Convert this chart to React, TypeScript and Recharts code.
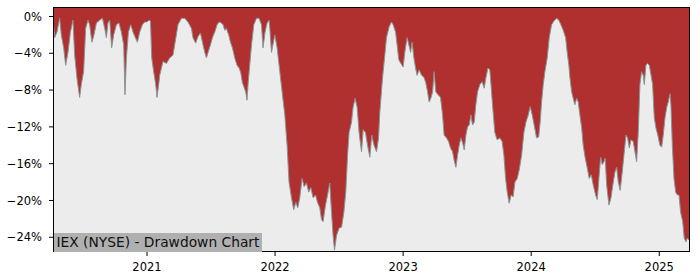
import React from "react"
import { Area, AreaChart, CartesianGrid, XAxis, YAxis } from "recharts"

// decimal years
const years = [
  2020.266, 2020.279, 2020.297, 2020.318, 2020.331, 2020.349, 2020.365, 2020.383, 2020.402, 2020.422,
  2020.435, 2020.453, 2020.474, 2020.487, 2020.505, 2020.521, 2020.539, 2020.552, 2020.57, 2020.586,
  2020.605, 2020.63, 2020.652, 2020.67, 2020.683, 2020.695, 2020.709, 2020.724, 2020.74, 2020.761,
  2020.781, 2020.8, 2020.818, 2020.828, 2020.839, 2020.855, 2020.873, 2020.891, 2020.909, 2020.925,
  2020.943, 2020.964, 2020.982, 2021.0, 2021.016, 2021.027, 2021.037, 2021.052, 2021.068, 2021.078,
  2021.094, 2021.099, 2021.125, 2021.152, 2021.177, 2021.203, 2021.216, 2021.242, 2021.269, 2021.295,
  2021.32, 2021.347, 2021.359, 2021.38, 2021.398, 2021.417, 2021.433, 2021.451, 2021.464, 2021.477,
  2021.495, 2021.511, 2021.529, 2021.547, 2021.563, 2021.581, 2021.594, 2021.607, 2021.62, 2021.638,
  2021.652, 2021.667, 2021.685, 2021.703, 2021.719, 2021.732, 2021.745, 2021.758, 2021.771, 2021.781,
  2021.789, 2021.802, 2021.816, 2021.834, 2021.855, 2021.875, 2021.894, 2021.906, 2021.922, 2021.938,
  2021.953, 2021.959, 2021.972, 2021.998, 2022.016, 2022.037, 2022.055, 2022.076, 2022.094, 2022.109,
  2022.128, 2022.146, 2022.162, 2022.177, 2022.193, 2022.211, 2022.227, 2022.245, 2022.263, 2022.279,
  2022.297, 2022.316, 2022.331, 2022.349, 2022.363, 2022.375, 2022.394, 2022.414, 2022.427, 2022.441,
  2022.453, 2022.464, 2022.48, 2022.5, 2022.519, 2022.537, 2022.552, 2022.566, 2022.578, 2022.597,
  2022.609, 2022.625, 2022.641, 2022.656, 2022.675, 2022.688, 2022.706, 2022.722, 2022.74, 2022.755,
  2022.773, 2022.792, 2022.808, 2022.818, 2022.839, 2022.857, 2022.87, 2022.891, 2022.909, 2022.922,
  2022.941, 2022.953, 2022.966, 2022.982, 2023.0, 2023.013, 2023.031, 2023.045, 2023.058, 2023.07,
  2023.084, 2023.097, 2023.109, 2023.125, 2023.144, 2023.162, 2023.177, 2023.191, 2023.203, 2023.216,
  2023.23, 2023.242, 2023.255, 2023.273, 2023.292, 2023.308, 2023.32, 2023.339, 2023.355, 2023.37,
  2023.386, 2023.398, 2023.412, 2023.425, 2023.438, 2023.451, 2023.464, 2023.477, 2023.49, 2023.503,
  2023.516, 2023.529, 2023.542, 2023.555, 2023.568, 2023.581, 2023.599, 2023.617, 2023.633, 2023.646,
  2023.662, 2023.677, 2023.698, 2023.716, 2023.734, 2023.755, 2023.773, 2023.787, 2023.8, 2023.813,
  2023.828, 2023.844, 2023.859, 2023.873, 2023.891, 2023.906, 2023.925, 2023.943, 2023.959, 2023.977,
  2023.992, 2024.008, 2024.023, 2024.042, 2024.058, 2024.07, 2024.081, 2024.094, 2024.107, 2024.125,
  2024.141, 2024.159, 2024.177, 2024.198, 2024.216, 2024.232, 2024.25, 2024.269, 2024.281, 2024.294,
  2024.302, 2024.316, 2024.328, 2024.341, 2024.355, 2024.367, 2024.38, 2024.394, 2024.406, 2024.422,
  2024.438, 2024.453, 2024.469, 2024.484, 2024.503, 2024.516, 2024.531, 2024.542, 2024.555, 2024.568,
  2024.578, 2024.589, 2024.607, 2024.623, 2024.641, 2024.654, 2024.667, 2024.68, 2024.695, 2024.711,
  2024.724, 2024.74, 2024.753, 2024.766, 2024.779, 2024.797, 2024.81, 2024.823, 2024.836, 2024.849,
  2024.862, 2024.875, 2024.883, 2024.896, 2024.909, 2024.922, 2024.936, 2024.948, 2024.961, 2024.974,
  2024.992, 2025.005, 2025.019, 2025.031, 2025.045, 2025.058, 2025.07, 2025.084, 2025.091, 2025.102,
  2025.115, 2025.128, 2025.141, 2025.154, 2025.167, 2025.183, 2025.195, 2025.209, 2025.219, 2025.232,
  2025.24,
]

// drawdown from running peak, in percent
const drawdown = [
  -0.2, -2.3, -1.7, -0.2, -2.0, -3.4, -5.3, -3.9, -1.7, -0.4,
  -4.2, -6.7, -8.8, -7.4, -6.0, -1.3, -0.4, -0.9, -2.8, -2.0,
  -0.7, -0.4, -0.2, -1.3, -2.3, -0.7, -0.4, -3.4, -2.0, -0.9,
  -0.7, -1.7, -3.1, -8.5, -4.5, -1.7, -0.9, -1.7, -2.3, -2.8,
  -1.7, -0.9, -0.6, -0.6, -0.4, -0.5, -4.5, -6.0, -7.4, -8.8,
  -7.1, -6.4, -4.9, -5.1, -4.5, -4.2, -3.1, -0.9, -0.2, -0.2,
  -0.6, -1.3, -2.3, -2.9, -2.2, -1.8, -2.8, -3.9, -4.5, -3.9,
  -3.1, -2.3, -1.7, -0.9, -0.6, -0.7, -0.9, -1.5, -1.3, -2.0,
  -2.8, -3.4, -4.5, -5.3, -5.6, -6.1, -7.2, -7.7, -8.2, -9.1,
  -7.4, -5.3, -3.1, -0.9, -0.2, -0.2, -0.9, -3.4, -1.7, -0.7,
  -0.4, -1.3, -3.9, -2.0, -3.4, -6.0, -8.2, -10.7, -14.0, -18.0,
  -19.7, -21.0, -20.2, -20.8, -19.7, -17.6, -18.5, -18.1, -19.1, -18.6,
  -19.7, -19.4, -20.2, -20.8, -22.1, -22.3, -20.5, -19.1, -18.1, -21.3,
  -23.8, -25.4, -23.8, -23.0, -22.9, -21.3, -19.1, -15.1, -12.6, -11.5,
  -9.9, -8.9, -9.9, -12.6, -14.7, -12.3, -12.6, -14.0, -15.3, -12.9,
  -14.0, -14.7, -13.2, -10.4, -6.7, -4.2, -2.3, -1.1, -0.6, -0.9,
  -1.7, -3.1, -4.7, -5.1, -5.5, -3.9, -2.3, -3.1, -3.9, -2.8,
  -4.5, -5.6, -6.4, -5.8, -6.4, -6.6, -7.2, -8.2, -9.3, -8.9,
  -8.2, -6.0, -8.2, -8.5, -8.8, -10.7, -12.9, -13.2, -13.6, -14.3,
  -14.7, -15.6, -16.4, -15.1, -14.0, -13.2, -13.7, -14.5, -12.9, -12.0,
  -11.8, -10.7, -11.8, -11.5, -9.6, -8.2, -7.4, -7.1, -7.8, -6.7,
  -5.6, -5.8, -9.6, -12.6, -13.4, -13.2, -13.6, -15.1, -17.6, -19.1,
  -20.3, -19.4, -19.6, -18.0, -17.6, -16.7, -15.1, -12.6, -11.5, -10.7,
  -9.8, -10.7, -11.8, -13.2, -13.1, -11.5, -9.3, -7.4, -6.0, -4.5,
  -2.3, -0.9, -0.5, -0.2, -0.4, -0.9, -1.5, -2.3, -3.9, -5.3,
  -6.6, -8.2, -8.9, -9.6, -8.9, -9.3, -10.7, -12.1, -14.0, -15.4,
  -16.5, -17.6, -17.2, -18.3, -19.4, -19.9, -17.2, -15.3, -16.1, -15.8,
  -15.4, -18.3, -20.5, -19.7, -18.0, -16.9, -16.4, -18.0, -18.9, -16.9,
  -15.1, -12.9, -13.2, -14.3, -13.4, -13.6, -14.7, -15.8, -12.6, -7.4,
  -6.0, -6.4, -7.4, -5.3, -5.1, -5.3, -6.4, -7.4, -11.0, -12.1,
  -13.1, -14.0, -14.2, -12.9, -11.0, -9.9, -9.3, -8.4, -9.6, -14.0,
  -17.6, -19.1, -19.4, -19.4, -21.3, -22.3, -24.1, -24.5, -24.1, -24.3,
  -24.2,
]

const yearTicks = [2021, 2022, 2023, 2024, 2025]
const pctTicks = [0, -4, -8, -12, -16, -20, -24]
const chartTitle = "IEX (NYSE) - Drawdown Chart"

const data = years.map((t, i) => ({ t, dd: drawdown[i] }))

const Y_TOP = 1.03
const Y_BOTTOM = -25.6
const FONT = "'DejaVu Sans', sans-serif"

const fmtPct = (v: number) => (v === 0 ? "0%" : `\u2212${Math.abs(v)}%`)

export default function App() {
  return (
    <div style={{ position: "absolute", left: 0, top: 0, width: 700, height: 280 }}>
      <AreaChart
        width={700}
        height={280}
        data={data}
        margin={{ top: 7, right: 10, bottom: 0, left: 0 }}
      >
        <CartesianGrid fill="#ececec" horizontal={false} vertical={false} />
        <XAxis
          dataKey="t"
          type="number"
          height={28}
          domain={[years[0], years[years.length - 1]]}
          ticks={yearTicks}
          tickFormatter={(v) => String(v)}
          axisLine={false}
          tickSize={4}
          tickMargin={7}
          tickLine={{ stroke: "#000" }}
          tick={{ fill: "#000", fontSize: 11.5, fontFamily: FONT }}
          allowDataOverflow
        />
        <YAxis
          width={53}
          type="number"
          domain={[Y_BOTTOM, Y_TOP]}
          ticks={pctTicks}
          tickFormatter={fmtPct}
          axisLine={false}
          tickSize={4}
          tickMargin={7}
          tickLine={{ stroke: "#000" }}
          tick={{ fill: "#000", fontSize: 11.5, fontFamily: FONT }}
          allowDataOverflow
        />
        <Area
          type="linear"
          dataKey="dd"
          baseValue={Y_TOP}
          stroke="#8a9494"
          strokeWidth={1}
          fill="#b03030"
          fillOpacity={1}
          dot={false}
          activeDot={false}
          isAnimationActive={false}
        />
      </AreaChart>
      {/* plot frame */}
      <div
        style={{
          position: "absolute",
          left: 53,
          top: 7,
          width: 637,
          height: 245,
          border: "1px solid #000",
          boxSizing: "border-box",
          pointerEvents: "none",
        }}
      />
      <div
        style={{
          position: "absolute",
          left: 54,
          top: 233.3,
          height: 18.7,
          lineHeight: "18.7px",
          padding: "0 3px 0 2.5px",
          background: "#b0b0b0",
          color: "#111",
          fontFamily: FONT,
          fontSize: 13.8,
          whiteSpace: "nowrap",
        }}
      >
        {chartTitle}
      </div>
    </div>
  )
}
